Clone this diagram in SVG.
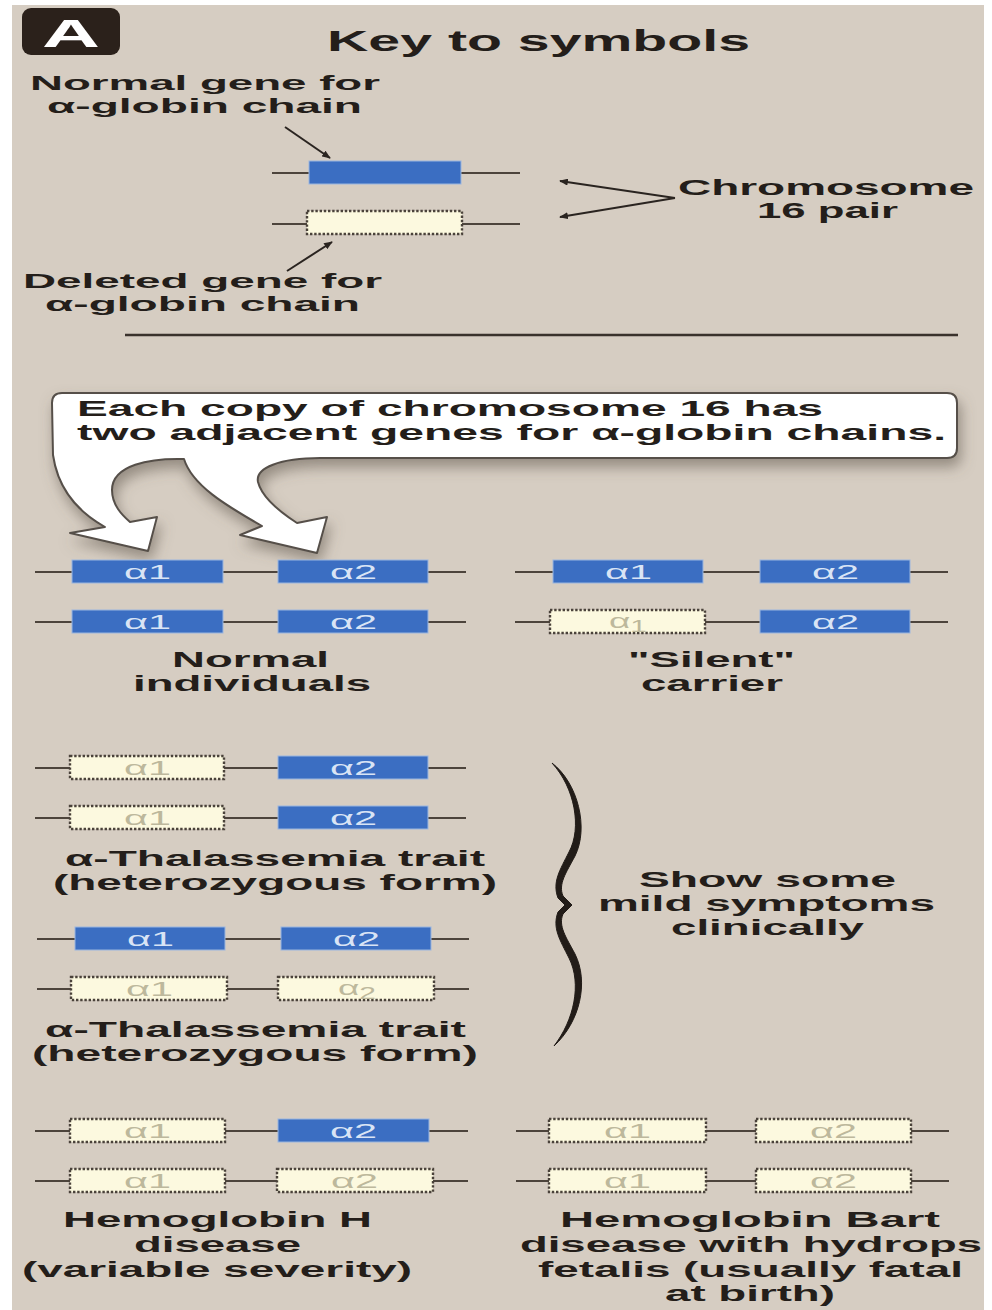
<svg xmlns="http://www.w3.org/2000/svg" width="992" height="1310" viewBox="0 0 992 1310">
<style>
.t{font-family:"Liberation Sans",Arial,sans-serif;font-weight:bold;fill:#241e1a;font-size:22px}
.k{font-size:21px}
.chr{stroke:#4d443c;stroke-width:2;fill:none}
.gene{fill:#3b6ec2;stroke:#9ab6df;stroke-width:1}
.del{fill:#fcf9df;stroke:#4a423a;stroke-width:2.4;stroke-dasharray:2.4 1.8}
.gl{font-family:"Liberation Sans",Arial,sans-serif;font-size:21px;fill:#d9e4f5}
.dl{font-family:"Liberation Sans",Arial,sans-serif;font-size:21px;fill:#bdb89c}
.conn{stroke:#2a2420;stroke-width:2;fill:none}
</style>
<defs>
<marker id="ah" viewBox="0 0 10 8" refX="9" refY="4" markerWidth="9" markerHeight="7" orient="auto" markerUnits="userSpaceOnUse">
<path d="M0,0 L10,4 L0,8 z" fill="#2a2420"/>
</marker>
<filter id="sh" x="-10%" y="-20%" width="120%" height="160%">
<feDropShadow dx="3" dy="8" stdDeviation="7" flood-color="#5e554c" flood-opacity="0.55"/>
</filter>
</defs>
<rect x="0" y="0" width="992" height="1310" fill="#ffffff"/>
<rect x="12" y="5" width="972" height="1305" fill="#d6cdc2"/>

<g id="badge">
<rect x="22" y="8" width="98" height="47" rx="9" fill="#2b211b"/>
<text x="42" y="47" textLength="58" lengthAdjust="spacingAndGlyphs" style="font-family:'Liberation Sans',Arial,sans-serif;font-weight:bold;font-size:38px;fill:#ffffff">A</text>
</g>
<g id="title">
<text class="t" x="327" y="51" style="font-size:30px" textLength="423" lengthAdjust="spacingAndGlyphs">Key to symbols</text>
</g>

<g id="key-normal">
<line class="chr" x1="272" y1="173" x2="520" y2="173"/>
<rect class="gene" x="309" y="161" width="152" height="23"/>
<text class="t k" x="30" y="90" textLength="350" lengthAdjust="spacingAndGlyphs">Normal gene for</text>
<text class="t k" x="47" y="113" textLength="315" lengthAdjust="spacingAndGlyphs">α-globin chain</text>
</g>
<g id="key-deleted">
<line class="chr" x1="272" y1="224" x2="520" y2="224"/>
<rect class="del" x="307" y="211" width="155" height="23"/>
<text class="t k" x="23" y="288" textLength="359" lengthAdjust="spacingAndGlyphs">Deleted gene for</text>
<text class="t k" x="45" y="311" textLength="315" lengthAdjust="spacingAndGlyphs">α-globin chain</text>
</g>
<g id="key-chromosome">
<text class="t" x="678" y="195" textLength="296" lengthAdjust="spacingAndGlyphs">Chromosome</text>
<text class="t" x="757" y="218" textLength="141" lengthAdjust="spacingAndGlyphs">16 pair</text>
</g>
<g id="divider">
<line x1="125" y1="335" x2="958" y2="335" stroke="#3a322c" stroke-width="2.5"/>
</g>

<g id="callout">
<path filter="url(#sh)" fill="#ffffff" stroke="#56504a" stroke-width="2" stroke-linejoin="round" d="M 62 393 H 947 Q 957 393 957 403 V 448 Q 957 458 947 458 H 320 C 280 458, 255 468, 258 482 C 262 498, 280 512, 297 523 L 327 517 L 317 553 L 240 535 L 262 526 C 225 505, 192 485, 184 459 C 150 458, 112 465, 112 490 C 112 505, 122 515, 130 522 L 157 517 L 148 551 L 70 533 L 105 527 C 80 513, 58 490, 53 455 L 52 403 Q 52 393 62 393 Z"/>
<text class="t" x="77" y="416" textLength="746" lengthAdjust="spacingAndGlyphs">Each copy of chromosome 16 has</text>
<text class="t" x="77" y="440" textLength="869" lengthAdjust="spacingAndGlyphs">two adjacent genes for α-globin chains.</text>
</g>

<g id="normal-individuals">
<line class="chr" x1="35" y1="572" x2="466" y2="572"/>
<rect class="gene" x="72" y="560" width="151" height="23"/>
<rect class="gene" x="278" y="560" width="150" height="23"/>
<text class="gl" x="124" y="579" textLength="47" lengthAdjust="spacingAndGlyphs">α1</text>
<text class="gl" x="330" y="579" textLength="47" lengthAdjust="spacingAndGlyphs">α2</text>
<line class="chr" x1="35" y1="622" x2="466" y2="622"/>
<rect class="gene" x="72" y="610" width="151" height="23"/>
<rect class="gene" x="278" y="610" width="150" height="23"/>
<text class="gl" x="124" y="629" textLength="47" lengthAdjust="spacingAndGlyphs">α1</text>
<text class="gl" x="330" y="629" textLength="47" lengthAdjust="spacingAndGlyphs">α2</text>
<text class="t" x="172" y="667" textLength="157" lengthAdjust="spacingAndGlyphs">Normal</text>
<text class="t" x="133" y="691" textLength="238" lengthAdjust="spacingAndGlyphs">individuals</text>
</g>

<g id="silent-carrier">
<line class="chr" x1="515" y1="572" x2="948" y2="572"/>
<rect class="gene" x="553" y="560" width="150" height="23"/>
<rect class="gene" x="760" y="560" width="150" height="23"/>
<text class="gl" x="605" y="579" textLength="47" lengthAdjust="spacingAndGlyphs">α1</text>
<text class="gl" x="812" y="579" textLength="47" lengthAdjust="spacingAndGlyphs">α2</text>
<line class="chr" x1="515" y1="622" x2="948" y2="622"/>
<rect class="del" x="550" y="610" width="155" height="23"/>
<rect class="gene" x="760" y="610" width="150" height="23"/>
<text class="dl" x="609" y="628" textLength="38" lengthAdjust="spacingAndGlyphs">α<tspan font-size="17" dy="4">1</tspan></text>
<text class="gl" x="812" y="629" textLength="47" lengthAdjust="spacingAndGlyphs">α2</text>
<text class="t" x="628" y="667" textLength="167" lengthAdjust="spacingAndGlyphs">"Silent"</text>
<text class="t" x="641" y="691" textLength="142" lengthAdjust="spacingAndGlyphs">carrier</text>
</g>

<g id="thal-trait-1">
<line class="chr" x1="35" y1="768" x2="466" y2="768"/>
<rect class="del" x="70" y="756" width="154" height="23"/>
<rect class="gene" x="278" y="756" width="150" height="23"/>
<text class="dl" x="124" y="775" textLength="47" lengthAdjust="spacingAndGlyphs">α1</text>
<text class="gl" x="330" y="775" textLength="47" lengthAdjust="spacingAndGlyphs">α2</text>
<line class="chr" x1="35" y1="818" x2="466" y2="818"/>
<rect class="del" x="70" y="806" width="154" height="23"/>
<rect class="gene" x="278" y="806" width="150" height="23"/>
<text class="dl" x="124" y="825" textLength="47" lengthAdjust="spacingAndGlyphs">α1</text>
<text class="gl" x="330" y="825" textLength="47" lengthAdjust="spacingAndGlyphs">α2</text>
<text class="t" x="65" y="866" textLength="420" lengthAdjust="spacingAndGlyphs">α-Thalassemia trait</text>
<text class="t" x="53" y="890" textLength="444" lengthAdjust="spacingAndGlyphs">(heterozygous form)</text>
</g>

<g id="thal-trait-2">
<line class="chr" x1="37" y1="939" x2="469" y2="939"/>
<rect class="gene" x="75" y="927" width="150" height="23"/>
<rect class="gene" x="281" y="927" width="150" height="23"/>
<text class="gl" x="127" y="946" textLength="47" lengthAdjust="spacingAndGlyphs">α1</text>
<text class="gl" x="333" y="946" textLength="47" lengthAdjust="spacingAndGlyphs">α2</text>
<line class="chr" x1="37" y1="989" x2="469" y2="989"/>
<rect class="del" x="71" y="977" width="156" height="23"/>
<rect class="del" x="278" y="977" width="156" height="23"/>
<text class="dl" x="126" y="996" textLength="47" lengthAdjust="spacingAndGlyphs">α1</text>
<text class="dl" x="338" y="995" textLength="38" lengthAdjust="spacingAndGlyphs">α<tspan font-size="17" dy="4">2</tspan></text>
<text class="t" x="45" y="1037" textLength="421" lengthAdjust="spacingAndGlyphs">α-Thalassemia trait</text>
<text class="t" x="32" y="1061" textLength="446" lengthAdjust="spacingAndGlyphs">(heterozygous form)</text>
</g>

<g id="brace-note">
<path d="M 552 763 C 578 783, 589 828, 575 856 C 566 873, 558 884, 563 896 L 572 905 L 563 914 C 558 926, 566 937, 575 954 C 589 982, 580 1022, 554 1046 C 574 1020, 582 984, 569 958 C 560 940, 552 928, 558 912 L 565 905 L 558 898 C 552 882, 560 870, 569 852 C 582 828, 575 788, 552 763 Z" fill="#221c18" stroke="#221c18" stroke-width="1" stroke-linejoin="round"/>
<text class="t" x="639" y="887" textLength="257" lengthAdjust="spacingAndGlyphs">Show some</text>
<text class="t" x="598" y="911" textLength="337" lengthAdjust="spacingAndGlyphs">mild symptoms</text>
<text class="t" x="671" y="935" textLength="193" lengthAdjust="spacingAndGlyphs">clinically</text>
</g>

<g id="hbh-disease">
<line class="chr" x1="35" y1="1131" x2="468" y2="1131"/>
<rect class="del" x="70" y="1119" width="155" height="23"/>
<rect class="gene" x="278" y="1119" width="151" height="23"/>
<text class="dl" x="124" y="1138" textLength="47" lengthAdjust="spacingAndGlyphs">α1</text>
<text class="gl" x="330" y="1138" textLength="47" lengthAdjust="spacingAndGlyphs">α2</text>
<line class="chr" x1="35" y1="1181" x2="468" y2="1181"/>
<rect class="del" x="70" y="1169" width="155" height="23"/>
<rect class="del" x="277" y="1169" width="156" height="23"/>
<text class="dl" x="124" y="1188" textLength="47" lengthAdjust="spacingAndGlyphs">α1</text>
<text class="dl" x="331" y="1188" textLength="47" lengthAdjust="spacingAndGlyphs">α2</text>
<text class="t" x="63" y="1227" textLength="309" lengthAdjust="spacingAndGlyphs">Hemoglobin H</text>
<text class="t" x="134" y="1252" textLength="167" lengthAdjust="spacingAndGlyphs">disease</text>
<text class="t" x="22" y="1277" textLength="390" lengthAdjust="spacingAndGlyphs">(variable severity)</text>
</g>

<g id="hb-bart">
<line class="chr" x1="516" y1="1131" x2="949" y2="1131"/>
<rect class="del" x="549" y="1119" width="157" height="23"/>
<rect class="del" x="756" y="1119" width="155" height="23"/>
<text class="dl" x="604" y="1138" textLength="47" lengthAdjust="spacingAndGlyphs">α1</text>
<text class="dl" x="810" y="1138" textLength="47" lengthAdjust="spacingAndGlyphs">α2</text>
<line class="chr" x1="516" y1="1181" x2="949" y2="1181"/>
<rect class="del" x="549" y="1169" width="157" height="23"/>
<rect class="del" x="756" y="1169" width="155" height="23"/>
<text class="dl" x="604" y="1188" textLength="47" lengthAdjust="spacingAndGlyphs">α1</text>
<text class="dl" x="810" y="1188" textLength="47" lengthAdjust="spacingAndGlyphs">α2</text>
<text class="t" x="560" y="1227" textLength="380" lengthAdjust="spacingAndGlyphs">Hemoglobin Bart</text>
<text class="t" x="520" y="1252" textLength="462" lengthAdjust="spacingAndGlyphs">disease with hydrops</text>
<text class="t" x="538" y="1277" textLength="425" lengthAdjust="spacingAndGlyphs">fetalis (usually fatal</text>
<text class="t" x="665" y="1301" textLength="170" lengthAdjust="spacingAndGlyphs">at birth)</text>
</g>

<g id="connectors">
<line class="conn" x1="285" y1="127" x2="330" y2="158" marker-end="url(#ah)"/>
<line class="conn" x1="287" y1="271" x2="332" y2="242" marker-end="url(#ah)"/>
<line class="conn" x1="675" y1="198" x2="560" y2="181" marker-end="url(#ah)"/>
<line class="conn" x1="675" y1="198" x2="560" y2="217" marker-end="url(#ah)"/>
</g>
</svg>
